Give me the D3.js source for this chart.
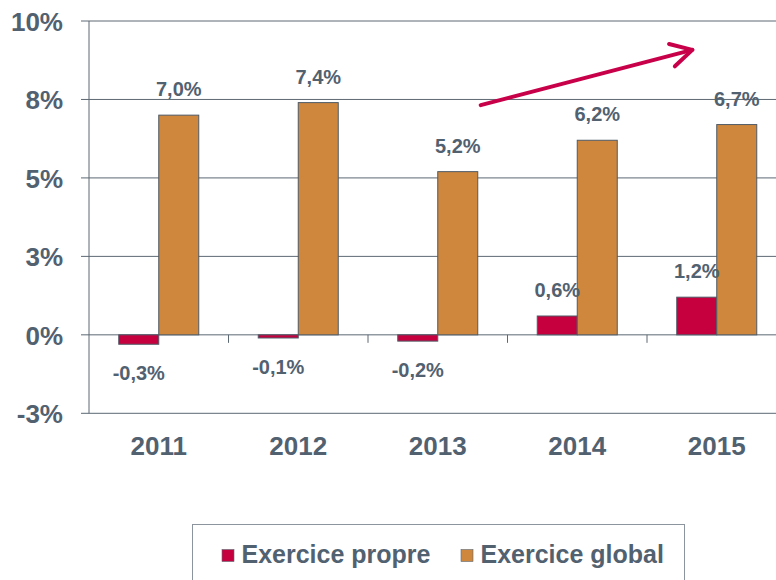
<!DOCTYPE html>
<html>
<head>
<meta charset="utf-8">
<script src="https://cdn.jsdelivr.net/npm/d3@7/dist/d3.min.js"></script>
<style>
  html, body { margin: 0; padding: 0; background: #ffffff; overflow: hidden; }
  svg { display: block; }
  text { font-family: "Liberation Sans", Arial, sans-serif; font-weight: bold; fill: #526170; }
</style>
</head>
<body>
<svg id="chart" width="776" height="580"></svg>
<script>
// Annual rates, two series
const years = ["2011", "2012", "2013", "2014", "2015"];
const exercicePropre = [-0.3, -0.1, -0.2, 0.6, 1.2];
const exerciceGlobal = [7.0, 7.4, 5.2, 6.2, 6.7];
const seriesNames = ["Exercice propre", "Exercice global"];
const yTicks = [-2.5, 0, 2.5, 5, 7.5, 10];

const colors = { propre: "#c6003f", global: "#cf873d" };
const ink = "#526170";
const gridDark = "#5c6873";

const svg = d3.select("#chart");

const plot = { left: 89, right: 786.5, top: 21, bottom: 413.3 };

const x = d3.scaleBand()
  .domain(years)
  .range([plot.left, plot.right])
  .paddingInner(0)
  .paddingOuter(0);

const y = d3.scaleLinear()
  .domain([-2.5, 10])
  .range([plot.bottom, plot.top]);

const barW = 40;
const groupOffset = (x.bandwidth() - 2 * barW) / 2;

// French-style numbers: decimal comma, plain hyphen for negatives
const locale = d3.formatLocale({ decimal: ",", thousands: " ", grouping: [3], currency: ["", " €"], minus: "-" });
const fmtPct = v => locale.format(".1f")(v) + "%";
const fmtTick = v => locale.format(".0f")(v) + "%";

// Horizontal gridlines with short ticks poking out left of the axis
const grid = svg.append("g");
grid.selectAll("line.grid")
  .data(yTicks)
  .join("line")
  .attr("class", "grid")
  .attr("x1", plot.left - 8)
  .attr("x2", plot.right)
  .attr("y1", d => y(d))
  .attr("y2", d => y(d))
  .attr("stroke", gridDark)
  .attr("stroke-width", 1);

// Y axis labels
const yAxis = d3.axisLeft(y).tickValues(yTicks).tickFormat(fmtTick).tickSize(0).tickPadding(26);
const gy = svg.append("g").attr("transform", `translate(${plot.left},0)`).call(yAxis);
gy.select(".domain").remove();
gy.selectAll("text")
  .attr("font-size", 26)
  .attr("font-family", "Liberation Sans, Arial, sans-serif")
  .attr("font-weight", "bold")
  .attr("fill", ink)
  .attr("dy", "0.36em");

// Left axis line
svg.append("line")
  .attr("x1", plot.left).attr("x2", plot.left)
  .attr("y1", plot.top).attr("y2", plot.bottom)
  .attr("stroke", gridDark).attr("stroke-width", 1);

// Category separators below the zero line
svg.append("g").selectAll("line")
  .data(years.slice(1))
  .join("line")
  .attr("x1", d => x(d)).attr("x2", d => x(d))
  .attr("y1", y(0)).attr("y2", y(0) + 8)
  .attr("stroke", gridDark).attr("stroke-width", 1);

// Category labels
const xAxis = d3.axisBottom(x).tickSize(0).tickPadding(0);
const gx = svg.append("g").attr("transform", `translate(0,${plot.bottom})`).call(xAxis);
gx.select(".domain").remove();
gx.selectAll("text")
  .attr("font-size", 26)
  .attr("font-family", "Liberation Sans, Arial, sans-serif")
  .attr("font-weight", "bold")
  .attr("fill", ink)
  .attr("dy", null)
  .attr("y", 42);

// Bars
const propreData = years.map((yr, i) => ({ year: yr, value: exercicePropre[i] }));
const globalData = years.map((yr, i) => ({ year: yr, value: exerciceGlobal[i] }));

const bars = svg.append("g");
bars.selectAll("rect.propre")
  .data(propreData)
  .join("rect")
  .attr("class", "propre")
  .attr("x", d => x(d.year) + groupOffset)
  .attr("width", barW)
  .attr("y", d => y(Math.max(0, d.value)))
  .attr("height", d => Math.abs(y(d.value) - y(0)))
  .attr("fill", colors.propre)
  .attr("stroke", "#4e5a66")
  .attr("stroke-width", 1);

bars.selectAll("rect.global")
  .data(globalData)
  .join("rect")
  .attr("class", "global")
  .attr("x", d => x(d.year) + groupOffset + barW)
  .attr("width", barW)
  .attr("y", d => y(Math.max(0, d.value)))
  .attr("height", d => Math.abs(y(d.value) - y(0)))
  .attr("fill", colors.global)
  .attr("stroke", "#4e5a66")
  .attr("stroke-width", 1);

// Value labels
const labels = svg.append("g");
labels.selectAll("text.lp")
  .data(propreData)
  .join("text")
  .attr("class", "lp")
  .attr("x", d => x(d.year) + groupOffset + barW / 2)
  .attr("y", d => d.value >= 0 ? y(d.value) - 19 : y(d.value) + 36)
  .attr("text-anchor", "middle")
  .attr("font-size", 20)
  .text(d => fmtPct(d.value));

labels.selectAll("text.lg")
  .data(globalData)
  .join("text")
  .attr("class", "lg")
  .attr("x", d => x(d.year) + groupOffset + barW * 1.5)
  .attr("y", d => y(d.value) - 19)
  .attr("text-anchor", "middle")
  .attr("font-size", 20)
  .text(d => fmtPct(d.value));

// Trend arrow
const arrowColor = "#c8004a";
const a0 = [x("2013") + x.bandwidth() * 0.808, y(7.32)];
const a1 = [x("2015") + x.bandwidth() * 0.325, y(9.08)];
const ang = Math.atan2(a1[1] - a0[1], a1[0] - a0[0]);
const headLen = 24, headAng = 0.5;
const arrow = svg.append("g")
  .attr("stroke", arrowColor)
  .attr("stroke-width", 4)
  .attr("stroke-linecap", "round")
  .attr("stroke-linejoin", "round")
  .attr("fill", "none");
arrow.append("line")
  .attr("x1", a0[0]).attr("y1", a0[1])
  .attr("x2", a1[0]).attr("y2", a1[1]);
arrow.append("path")
  .attr("d", d3.line()([
    [a1[0] - headLen * Math.cos(ang - headAng), a1[1] - headLen * Math.sin(ang - headAng)],
    a1,
    [a1[0] - headLen * Math.cos(ang + headAng), a1[1] - headLen * Math.sin(ang + headAng)]
  ]));

// Legend
const legend = svg.append("g");
legend.append("rect")
  .attr("x", 192.5).attr("y", 524.5)
  .attr("width", 492).attr("height", 80)
  .attr("fill", "#ffffff")
  .attr("stroke", "#8c959e")
  .attr("stroke-width", 1);

const legendItems = [
  { name: seriesNames[0], color: colors.propre, x: 222 },
  { name: seriesNames[1], color: colors.global, x: 461 }
];
const li = legend.selectAll("g.item")
  .data(legendItems)
  .join("g")
  .attr("class", "item")
  .attr("transform", d => `translate(${d.x},549.5)`);
li.append("rect")
  .attr("width", 12).attr("height", 12)
  .attr("fill", d => d.color)
  .attr("stroke", "#5c6873").attr("stroke-width", 0.6);
li.append("text")
  .attr("x", 19.5)
  .attr("y", 13.8)
  .attr("font-size", 25)
  .text(d => d.name);
</script>
</body>
</html>
